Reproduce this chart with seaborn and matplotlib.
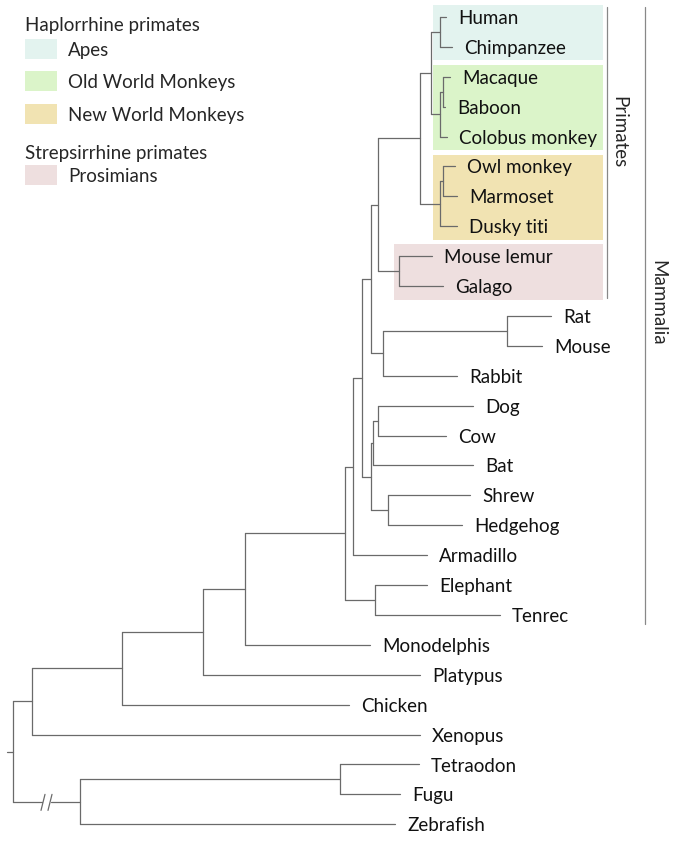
import warnings
warnings.filterwarnings("ignore")

import matplotlib
matplotlib.use("Agg")

import matplotlib.pyplot as plt
import seaborn as sns
import pandas as pd
from matplotlib.patches import Rectangle

# leaves, top to bottom, with the x where each tip branch ends
leaves = ["Human", "Chimpanzee", "Macaque", "Baboon", "Colobus monkey",
          "Owl monkey", "Marmoset", "Dusky titi", "Mouse lemur", "Galago",
          "Rat", "Mouse", "Rabbit", "Dog", "Cow", "Bat", "Shrew", "Hedgehog",
          "Armadillo", "Elephant", "Tenrec", "Monodelphis", "Platypus",
          "Chicken", "Xenopus", "Tetraodon", "Fugu", "Zebrafish"]
tip_x = [446, 452, 450, 445, 447,
         455, 457, 457, 432, 443,
         551, 542, 457, 473, 446, 473, 470, 462,
         427, 427, 500, 370, 420,
         349, 420, 419, 400, 395]

# internal nodes: name -> (depth x, children)
clades = {
    "HC": (440, ["Human", "Chimpanzee"]),
    "MB": (443, ["Macaque", "Baboon"]),
    "OWM": (440, ["MB", "Colobus monkey"]),
    "Catarrhini": (431, ["HC", "OWM"]),
    "OM": (443, ["Owl monkey", "Marmoset"]),
    "NWM": (440, ["OM", "Dusky titi"]),
    "Anthropoidea": (420, ["Catarrhini", "NWM"]),
    "Strep": (399, ["Mouse lemur", "Galago"]),
    "Primates": (378, ["Anthropoidea", "Strep"]),
    "Rodents": (507, ["Rat", "Mouse"]),
    "Glires": (383, ["Rodents", "Rabbit"]),
    "Euarch": (371, ["Primates", "Glires"]),
    "DC": (378, ["Dog", "Cow"]),
    "DCB": (373, ["DC", "Bat"]),
    "Eulipo": (388, ["Shrew", "Hedgehog"]),
    "Laur": (371, ["DCB", "Eulipo"]),
    "Boreo": (362, ["Euarch", "Laur"]),
    "BX": (353, ["Boreo", "Armadillo"]),
    "Afro": (375, ["Elephant", "Tenrec"]),
    "Placentalia": (345, ["BX", "Afro"]),
    "Theria": (245, ["Placentalia", "Monodelphis"]),
    "Mammalia": (203, ["Theria", "Platypus"]),
    "Amniota": (122, ["Mammalia", "Chicken"]),
    "Tetrapoda": (32, ["Amniota", "Xenopus"]),
    "Puffer": (340, ["Tetraodon", "Fugu"]),
    "Fish": (80, ["Puffer", "Zebrafish"]),
    "Root": (13, ["Tetrapoda", "Fish"]),
}
root_stem_x = 7
broken_branch = "Fish"

# coloured groups
group_names = ["Apes", "Old World Monkeys", "New World Monkeys", "Prosimians"]
group_rows = [(0, 1), (2, 4), (5, 7), (8, 9)]
group_colors = ["#e3f3ef", "#dbf4c9", "#f1e3b2", "#eedfdf"]
group_left = [433, 433, 433, 394]
legend_headers = ["Haplorrhine primates", "Strepsirrhine primates"]

LINE = "#6a6a6a"
W, H = 677, 847
row0, row_step = 17, 29.9

node_x = dict(zip(leaves, tip_x))
node_y = {name: row0 + row_step * i for i, name in enumerate(leaves)}
for name, (x, _) in clades.items():
    node_x[name] = x


def place(name):
    if name in node_y:
        return node_y[name]
    kids = clades[name][1]
    node_y[name] = sum(place(k) for k in kids) / len(kids)
    return node_y[name]


place("Root")

# build segments as rows of a long table
rows = []
seg = 0
for name, (x, kids) in clades.items():
    ys = [node_y[k] for k in kids]
    rows += [(seg, x, min(ys)), (seg, x, max(ys))]
    seg += 1
    for k in kids:
        if name == "Root" and k == broken_branch:
            rows += [(seg, x, node_y[k]), (seg, 42, node_y[k])]
            seg += 1
            rows += [(seg, 51, node_y[k]), (seg, node_x[k], node_y[k])]
        else:
            rows += [(seg, x, node_y[k]), (seg, node_x[k], node_y[k])]
        seg += 1
rows += [(seg, root_stem_x, node_y["Root"]), (seg, clades["Root"][0], node_y["Root"])]
seg += 1
by = node_y[broken_branch]
for bx in (41, 48):
    rows += [(seg, bx, by + 8.5), (seg, bx + 4, by - 7.5)]
    seg += 1
segs = pd.DataFrame(rows, columns=["seg", "x", "y"])

sns.set_theme(style="white")
plt.rcParams["font.family"] = ["Lato", "DejaVu Sans"]

fig = plt.figure(figsize=(W / 100, H / 100), dpi=100)
ax = fig.add_axes([0, 0, 1, 1])

# group boxes behind the tree
for (r0, r1), col, left in zip(group_rows, group_colors, group_left):
    top = node_y[leaves[r0]] - 0.4 * row_step
    bot = node_y[leaves[r1]] + 0.45 * row_step
    ax.add_patch(Rectangle((left, top), 603 - left, bot - top, color=col, lw=0, zorder=0))

sns.lineplot(data=segs, x="x", y="y", units="seg", estimator=None, sort=False,
             color=LINE, linewidth=0.9, ax=ax, legend=False, zorder=2)

fs = 13.5
for name in leaves:
    ax.text(node_x[name] + 12, node_y[name], name, fontsize=fs,
            va="center_baseline", ha="left", color="#111111")

# brackets
ax.plot([607, 607], [7, 298], color="#888888", lw=0.9)
ax.plot([645, 645], [7, 624], color="#888888", lw=0.9)
ax.text(619, 132, "Primates", rotation=-90, fontsize=fs, ha="center", va="center")
ax.text(658, 303, "Mammalia", rotation=-90, fontsize=fs, ha="center", va="center")

# legend
ax.text(25, 24, legend_headers[0], fontsize=fs, va="center_baseline")
ax.text(25, 152, legend_headers[1], fontsize=fs, va="center_baseline")
for name, col, yc in zip(group_names, group_colors, [49, 81, 114, 175]):
    ax.add_patch(Rectangle((25, yc - 10), 32, 20, color=col, lw=0))
    ax.text(68, yc, name, fontsize=fs, va="center_baseline")

ax.set_xlim(0, W)
ax.set_ylim(H, 0)
ax.axis("off")

fig.savefig("out.png", dpi=100)
